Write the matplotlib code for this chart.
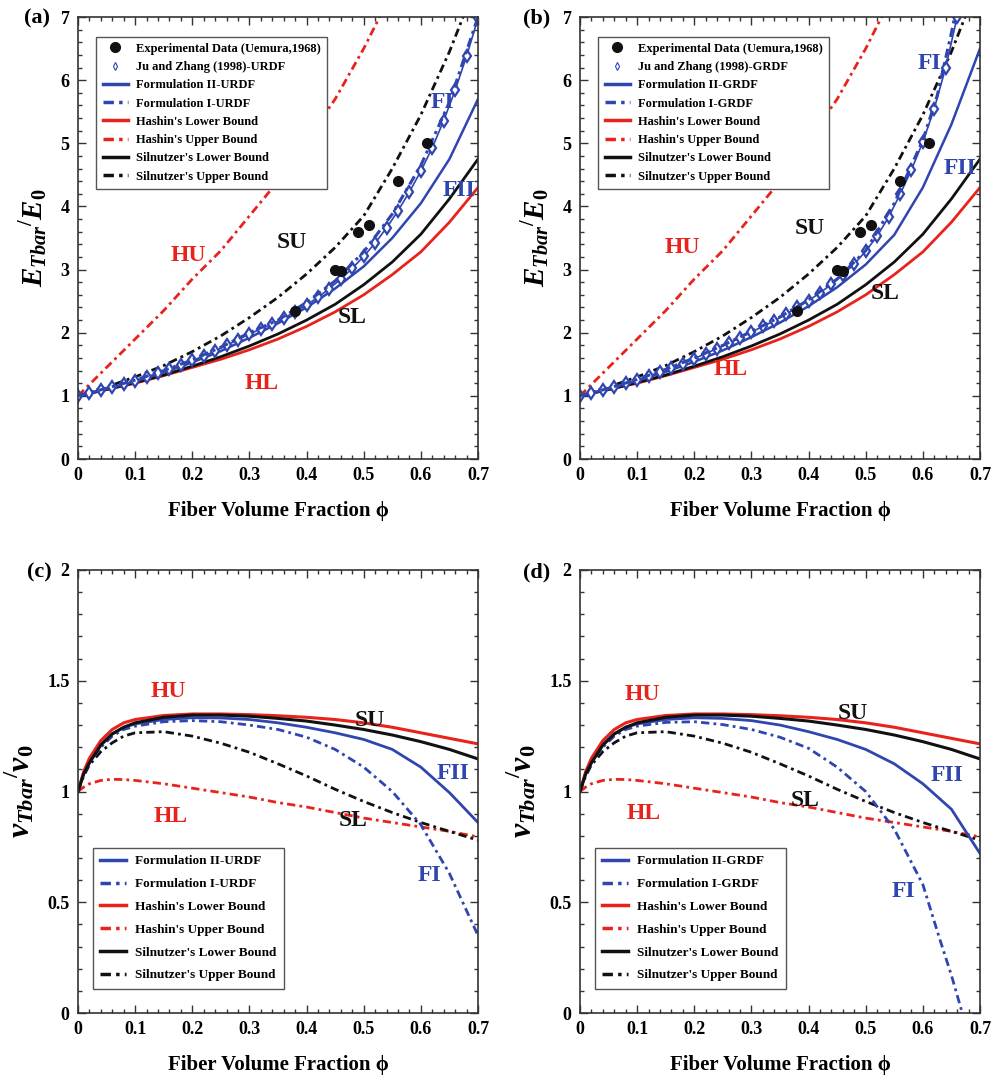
import matplotlib
matplotlib.use("Agg")
import matplotlib.pyplot as plt
from matplotlib.lines import Line2D
from matplotlib.ticker import MultipleLocator, FuncFormatter

plt.rcParams["font.family"] = ["Liberation Serif", "DejaVu Serif"]
plt.rcParams["font.weight"] = "bold"
plt.rcParams["mathtext.fontset"] = "custom"
plt.rcParams["mathtext.it"] = "Liberation Serif:bold:italic"
plt.rcParams["mathtext.rm"] = "Liberation Serif:bold"
plt.rcParams["mathtext.bf"] = "Liberation Serif:bold"

RED = "#e8231c"
BLUE = "#2f45b0"
BLACK = "#111111"
DASHDOT = (3, 1.5, 1, 1.5)

# ---------------- transverse modulus E_T / E_0 ----------------
phi_E = [0, 0.05, 0.1, 0.15, 0.2, 0.25, 0.3, 0.35, 0.4, 0.45, 0.5, 0.55, 0.6, 0.65, 0.7]

hu_E_phi = [0, 0.05, 0.1, 0.15, 0.2, 0.25, 0.3, 0.35, 0.4, 0.45, 0.5, 0.55]
hu_E = [1.0, 1.45, 1.9, 2.35, 2.85, 3.3, 3.85, 4.4, 5.05, 5.7, 6.5, 7.4]
hl_E = [1.0, 1.1, 1.2, 1.32, 1.45, 1.58, 1.73, 1.9, 2.1, 2.33, 2.6, 2.92, 3.28, 3.75, 4.3]
sl_E = [1.0, 1.1, 1.21, 1.33, 1.47, 1.62, 1.79, 1.98, 2.2, 2.45, 2.76, 3.12, 3.56, 4.12, 4.75]
su_E = [1.0, 1.14, 1.3, 1.48, 1.7, 1.95, 2.24, 2.56, 2.93, 3.35, 3.85, 4.6, 5.45, 6.45, 7.6]

exp_phi = [0.38, 0.45, 0.46, 0.49, 0.51, 0.56, 0.61]
exp_E = [2.35, 3.0, 2.97, 3.6, 3.7, 4.4, 5.0]

# URDF
fI_urdf_E = [1.0, 1.12, 1.25, 1.4, 1.57, 1.77, 2.0, 2.2, 2.48, 2.82, 3.28, 3.88, 4.65, 5.65, 7.0]
fII_urdf_E = [1.0, 1.11, 1.23, 1.37, 1.53, 1.71, 1.92, 2.15, 2.4, 2.7, 3.05, 3.5, 4.05, 4.75, 5.7]
jz_phi = [0.00, 0.02, 0.04, 0.06, 0.08, 0.10, 0.12, 0.14, 0.16, 0.18, 0.20, 0.22,
          0.24, 0.26, 0.28, 0.30, 0.32, 0.34, 0.36, 0.38, 0.40, 0.42, 0.44, 0.46,
          0.48, 0.50, 0.52, 0.54, 0.56, 0.58, 0.60, 0.62, 0.64, 0.66, 0.68, 0.70]
jz_urdf_E = [1.00, 1.04, 1.09, 1.14, 1.19, 1.24, 1.30, 1.36, 1.42, 1.49, 1.56, 1.63,
             1.71, 1.80, 1.89, 1.98, 2.06, 2.14, 2.23, 2.33, 2.44, 2.56, 2.70, 2.85,
             3.02, 3.21, 3.42, 3.66, 3.93, 4.23, 4.56, 4.93, 5.36, 5.84, 6.38, 6.98]

# GRDF
fI_grdf_E_phi = [0, 0.05, 0.1, 0.15, 0.2, 0.25, 0.3, 0.35, 0.4, 0.45, 0.5, 0.55, 0.6, 0.625, 0.65, 0.665]
fI_grdf_E = [1.0, 1.12, 1.26, 1.42, 1.6, 1.8, 2.02, 2.25, 2.52, 2.85, 3.3, 4.05, 5.05, 5.75, 6.75, 7.4]
fII_grdf_E = [1.0, 1.11, 1.24, 1.38, 1.54, 1.72, 1.93, 2.16, 2.42, 2.72, 3.08, 3.55, 4.3, 5.3, 6.5]
jz_grdf_E = [1.00, 1.04, 1.09, 1.14, 1.20, 1.25, 1.31, 1.38, 1.44, 1.51, 1.59, 1.67,
             1.75, 1.83, 1.92, 2.01, 2.10, 2.19, 2.29, 2.40, 2.51, 2.63, 2.77, 2.92,
             3.09, 3.29, 3.53, 3.83, 4.19, 4.58, 5.02, 5.55, 6.20, 7.00, 7.9, 8.8]

# ---------------- transverse Poisson ratio nu_T / nu_0 ----------------
phi_nu = [0, 0.01, 0.02, 0.04, 0.06, 0.08, 0.1, 0.15, 0.2, 0.25, 0.3, 0.35, 0.4, 0.45, 0.5, 0.55, 0.6, 0.65, 0.7]
hu_nu = [1.0, 1.09, 1.15, 1.23, 1.28, 1.31, 1.325, 1.343, 1.35, 1.35, 1.347, 1.342, 1.335, 1.325, 1.31, 1.29, 1.265, 1.24, 1.215]
su_nu = [1.0, 1.08, 1.13, 1.21, 1.26, 1.29, 1.31, 1.335, 1.345, 1.345, 1.34, 1.33, 1.318, 1.3, 1.28, 1.255, 1.225, 1.19, 1.147]
sl_nu = [1.0, 1.07, 1.12, 1.18, 1.22, 1.25, 1.265, 1.27, 1.25, 1.218, 1.177, 1.125, 1.07, 1.01, 0.955, 0.905, 0.86, 0.82, 0.78]
hl_nu = [1.0, 1.02, 1.035, 1.05, 1.055, 1.054, 1.05, 1.035, 1.015, 0.995, 0.975, 0.95, 0.93, 0.905, 0.88, 0.86, 0.84, 0.82, 0.795]

fII_urdf_nu = [1.0, 1.08, 1.13, 1.21, 1.26, 1.29, 1.305, 1.325, 1.333, 1.332, 1.325, 1.31, 1.29, 1.265, 1.235, 1.19, 1.11, 0.995, 0.86]
fI_urdf_nu = [1.0, 1.08, 1.13, 1.2, 1.25, 1.28, 1.295, 1.315, 1.32, 1.315, 1.3, 1.28, 1.245, 1.19, 1.11, 1.0, 0.85, 0.63, 0.35]

fII_grdf_nu = [1.0, 1.08, 1.13, 1.21, 1.26, 1.29, 1.305, 1.325, 1.333, 1.33, 1.32, 1.3, 1.27, 1.235, 1.19, 1.125, 1.035, 0.92, 0.72]
fI_grdf_nu_phi = [0, 0.01, 0.02, 0.04, 0.06, 0.08, 0.1, 0.15, 0.2, 0.25, 0.3, 0.35, 0.4, 0.45, 0.5, 0.55, 0.6, 0.63, 0.65, 0.669]
fI_grdf_nu = [1.0, 1.08, 1.13, 1.2, 1.25, 1.28, 1.295, 1.312, 1.315, 1.302, 1.28, 1.245, 1.195, 1.11, 1.0, 0.83, 0.58, 0.33, 0.17, 0.0]

LEG_E = ["Experimental Data (Uemura,1968)", "Ju and Zhang (1998)-{}", "Formulation II-{}",
         "Formulation I-{}", "Hashin's Lower Bound", "Hashin's Upper Bound",
         "Silnutzer's Lower Bound", "Silnutzer's Upper Bound"]

fig = plt.figure(figsize=(9.91, 10.86), dpi=100)
W, H = 991, 1086


def make_axes(left, top, right, bottom):
    return fig.add_axes([left / W, 1 - bottom / H, (right - left) / W, (bottom - top) / H])


def style_axes(ax, ymax, ymajor, yminor):
    ax.set_xlim(0, 0.7)
    ax.set_ylim(0, ymax)
    ax.xaxis.set_major_locator(MultipleLocator(0.1))
    ax.xaxis.set_minor_locator(MultipleLocator(0.02))
    ax.yaxis.set_major_locator(MultipleLocator(ymajor))
    ax.yaxis.set_minor_locator(MultipleLocator(yminor))
    ax.tick_params(which="both", direction="in", top=True, right=True, width=1, colors="#333333")
    ax.tick_params(which="major", length=6, labelsize=13, labelcolor="black", pad=6)
    ax.tick_params(which="minor", length=3)
    ax.xaxis.set_major_formatter(FuncFormatter(lambda v, p: "0" if abs(v) < 1e-9 else f"{v:.1f}"))
    ax.yaxis.set_major_formatter(FuncFormatter(lambda v, p: f"{v:g}"))
    for s in ax.spines.values():
        s.set_linewidth(1.2)
        s.set_color("#333333")
    ax.set_xlabel("Fiber Volume Fraction ϕ", fontsize=15, fontweight="bold", labelpad=12)


def curve_label(ax, x, y, s, color):
    ax.text(x, y, s, color=color, fontsize=17, fontweight="bold", ha="center", va="center")


def bold_legend(leg):
    leg.get_frame().set_linewidth(1.0)
    for t in leg.get_texts():
        t.set_fontweight("bold")


def modulus_panel(ax, tag, fI_phi, fI, fII, jz):
    ax.plot(hu_E_phi, hu_E, color=RED, lw=2, dashes=DASHDOT)
    ax.plot(phi_E, su_E, color=BLACK, lw=2, dashes=DASHDOT)
    ax.plot(phi_E, hl_E, color=RED, lw=2)
    ax.plot(phi_E, sl_E, color=BLACK, lw=2)
    ax.plot(phi_E, fII, color=BLUE, lw=1.8)
    # Ju & Zhang points are dense enough to read as a band
    ax.plot(jz_phi, jz, color=BLUE, lw=1.2, marker="d", ms=6.5, mfc="white", mec=BLUE, mew=1.6)
    ax.plot(fI_phi, fI, color=BLUE, lw=2.2, dashes=DASHDOT)
    ax.plot(exp_phi, exp_E, ls="none", marker="o", ms=7, color=BLACK)
    style_axes(ax, 7, 1, 0.2)
    ax.set_ylabel(r"$E_{Tbar}{}^{/}E_{0}$", fontsize=21, labelpad=8)
    handles = [
        Line2D([], [], ls="none", marker="o", ms=7, color=BLACK),
        Line2D([], [], ls="none", marker="d", ms=4, mfc="white", mec=BLUE, mew=0.8),
        Line2D([], [], color=BLUE, lw=2.5),
        Line2D([], [], color=BLUE, lw=2.5, dashes=DASHDOT),
        Line2D([], [], color=RED, lw=2.5),
        Line2D([], [], color=RED, lw=2.5, dashes=DASHDOT),
        Line2D([], [], color=BLACK, lw=2.5),
        Line2D([], [], color=BLACK, lw=2.5, dashes=DASHDOT),
    ]
    labels = [s.format(tag) for s in LEG_E]
    leg = ax.legend(handles, labels, loc="upper left", bbox_to_anchor=(0.03, 0.97),
                    fontsize=9, labelspacing=0.5, handlelength=2.0, handletextpad=0.7,
                    borderpad=0.5, fancybox=False, framealpha=1, edgecolor="#555555")
    bold_legend(leg)


def poisson_panel(ax, tag, fI_phi, fI, fII):
    ax.plot(phi_nu, hl_nu, color=RED, lw=2, dashes=DASHDOT)
    ax.plot(phi_nu, sl_nu, color=BLACK, lw=2, dashes=DASHDOT)
    ax.plot(fI_phi, fI, color=BLUE, lw=2, dashes=DASHDOT)
    ax.plot(phi_nu, fII, color=BLUE, lw=2)
    ax.plot(phi_nu, hu_nu, color=RED, lw=2.2)
    ax.plot(phi_nu, su_nu, color=BLACK, lw=2.2)
    style_axes(ax, 2, 0.5, 0.1)
    ax.set_ylabel(r"$\nu_{Tbar}{}^{/}\nu_{0}$", fontsize=23, labelpad=8)
    handles = [
        Line2D([], [], color=BLUE, lw=2.5),
        Line2D([], [], color=BLUE, lw=2.5, dashes=DASHDOT),
        Line2D([], [], color=RED, lw=2.5),
        Line2D([], [], color=RED, lw=2.5, dashes=DASHDOT),
        Line2D([], [], color=BLACK, lw=2.5),
        Line2D([], [], color=BLACK, lw=2.5, dashes=DASHDOT),
    ]
    labels = [s.format(tag) for s in LEG_E[2:]]
    leg = ax.legend(handles, labels, loc="lower left", bbox_to_anchor=(0.02, 0.04),
                    fontsize=9.5, labelspacing=0.8, handlelength=2.0, handletextpad=0.7,
                    borderpad=0.55, fancybox=False, framealpha=1, edgecolor="#555555")
    bold_legend(leg)


ax_a = make_axes(78, 17, 478, 459)
ax_b = make_axes(580, 17, 980, 459)
ax_c = make_axes(78, 570, 478, 1013)
ax_d = make_axes(580, 570, 980, 1013)

modulus_panel(ax_a, "URDF", phi_E, fI_urdf_E, fII_urdf_E, jz_urdf_E)
curve_label(ax_a, 0.193, 3.22, "HU", RED)
curve_label(ax_a, 0.375, 3.43, "SU", BLACK)
curve_label(ax_a, 0.48, 2.24, "SL", BLACK)
curve_label(ax_a, 0.322, 1.2, "HL", RED)
curve_label(ax_a, 0.637, 5.64, "FI", BLUE)
curve_label(ax_a, 0.666, 4.25, "FII", BLUE)

modulus_panel(ax_b, "GRDF", fI_grdf_E_phi, fI_grdf_E, fII_grdf_E, jz_grdf_E)
curve_label(ax_b, 0.179, 3.35, "HU", RED)
curve_label(ax_b, 0.403, 3.65, "SU", BLACK)
curve_label(ax_b, 0.534, 2.62, "SL", BLACK)
curve_label(ax_b, 0.263, 1.42, "HL", RED)
curve_label(ax_b, 0.611, 6.26, "FI", BLUE)
curve_label(ax_b, 0.665, 4.6, "FII", BLUE)

poisson_panel(ax_c, "URDF", phi_nu, fI_urdf_nu, fII_urdf_nu)
curve_label(ax_c, 0.158, 1.45, "HU", RED)
curve_label(ax_c, 0.163, 0.885, "HL", RED)
curve_label(ax_c, 0.51, 1.32, "SU", BLACK)
curve_label(ax_c, 0.482, 0.87, "SL", BLACK)
curve_label(ax_c, 0.657, 1.08, "FII", BLUE)
curve_label(ax_c, 0.615, 0.62, "FI", BLUE)

poisson_panel(ax_d, "GRDF", fI_grdf_nu_phi, fI_grdf_nu, fII_grdf_nu)
curve_label(ax_d, 0.109, 1.44, "HU", RED)
curve_label(ax_d, 0.112, 0.90, "HL", RED)
curve_label(ax_d, 0.478, 1.35, "SU", BLACK)
curve_label(ax_d, 0.394, 0.96, "SL", BLACK)
curve_label(ax_d, 0.643, 1.07, "FII", BLUE)
curve_label(ax_d, 0.566, 0.55, "FI", BLUE)

for tag, x, y in [("(a)", 37, 18), ("(b)", 537, 18), ("(c)", 39, 572), ("(d)", 537, 572)]:
    fig.text(x / W, 1 - y / H, tag, fontsize=16, fontweight="bold", ha="center", va="center")

fig.savefig("out.png", dpi=100)
